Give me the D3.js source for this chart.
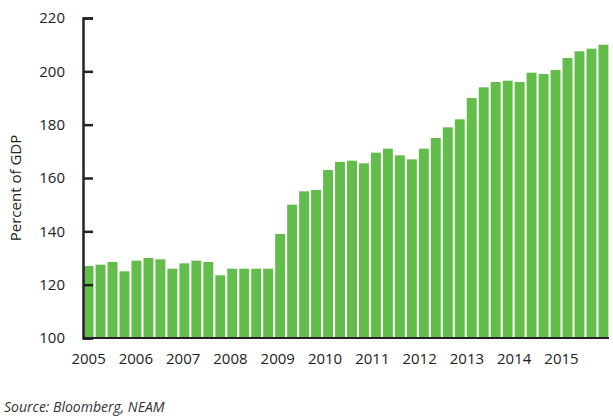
<!DOCTYPE html>
<html><head><meta charset="utf-8">
<script src="https://cdn.jsdelivr.net/npm/d3@7"></script>
<style>body{margin:0;background:#fff}text{font-family:"Open Sans",sans-serif}</style>
</head><body><svg></svg>
<script>
const years = ["2005","2006","2007","2008","2009","2010","2011","2012","2013","2014","2015"];
const values = [
  127,127.5,128.5,125, 129,130,129.5,126, 128,129,128.5,123.5,
  126,126,126,126, 139,150,155,155.5, 163,166,166.5,165.5,
  169.5,171,168.5,167, 171,175,179,182, 190,194,196,196.5,
  196,199.5,199,200.5, 205,207.5,208.5,210
];
const yTicks = [100,120,140,160,180,200,220];

const width = 613, height = 419;
const svg = d3.select("svg").attr("width", width).attr("height", height);
const mLeft = 83, mRight = 609, mTop = 18, mBottom = 338;

const x = d3.scaleBand().domain(d3.range(values.length)).range([mLeft, mRight]).paddingInner(0.17).paddingOuter(0.05);
const y = d3.scaleLinear().domain([100, 220]).range([mBottom, mTop]);

svg.append("g").selectAll("rect").data(values).enter().append("rect")
    .attr("x", (d, i) => x(i))
    .attr("y", d => y(d))
    .attr("width", x.bandwidth())
    .attr("height", d => mBottom - y(d))
    .attr("fill", "#63bd4a");

// y axis
const yAxis = svg.append("g").attr("transform", `translate(${mLeft},0)`)
    .call(d3.axisLeft(y).tickValues(yTicks).tickSize(-10).tickPadding(18));
yAxis.select(".domain").attr("stroke", "#222").attr("stroke-width", 2.5);
yAxis.selectAll(".tick line").attr("stroke", "#222").attr("stroke-width", 2.5);
yAxis.selectAll("text").style("font-size", "15px").attr("fill", "#222");

// x baseline
svg.append("line").attr("x1", mLeft).attr("x2", mRight).attr("y1", mBottom).attr("y2", mBottom)
    .attr("stroke", "#222").attr("stroke-width", 2);

// year labels
svg.append("g").selectAll("text").data(years).enter().append("text")
    .attr("x", (d, i) => x(i * 4) + x.bandwidth() / 2 + i * -0.6)
    .attr("y", mBottom + 26)
    .attr("text-anchor", "middle")
    .style("font-size", "15px").attr("fill", "#222")
    .text(d => d);

svg.append("text")
    .attr("transform", `translate(21,${(mTop + mBottom) / 2 + 10}) rotate(-90)`)
    .attr("text-anchor", "middle")
    .style("font-size", "15px").attr("fill", "#222")
    .text("Percent of GDP");

svg.append("text").attr("x", 4).attr("y", 412)
    .style("font-size", "14px").style("font-style", "italic").attr("fill", "#333")
    .text("Source:  Bloomberg, NEAM");
</script></body></html>
